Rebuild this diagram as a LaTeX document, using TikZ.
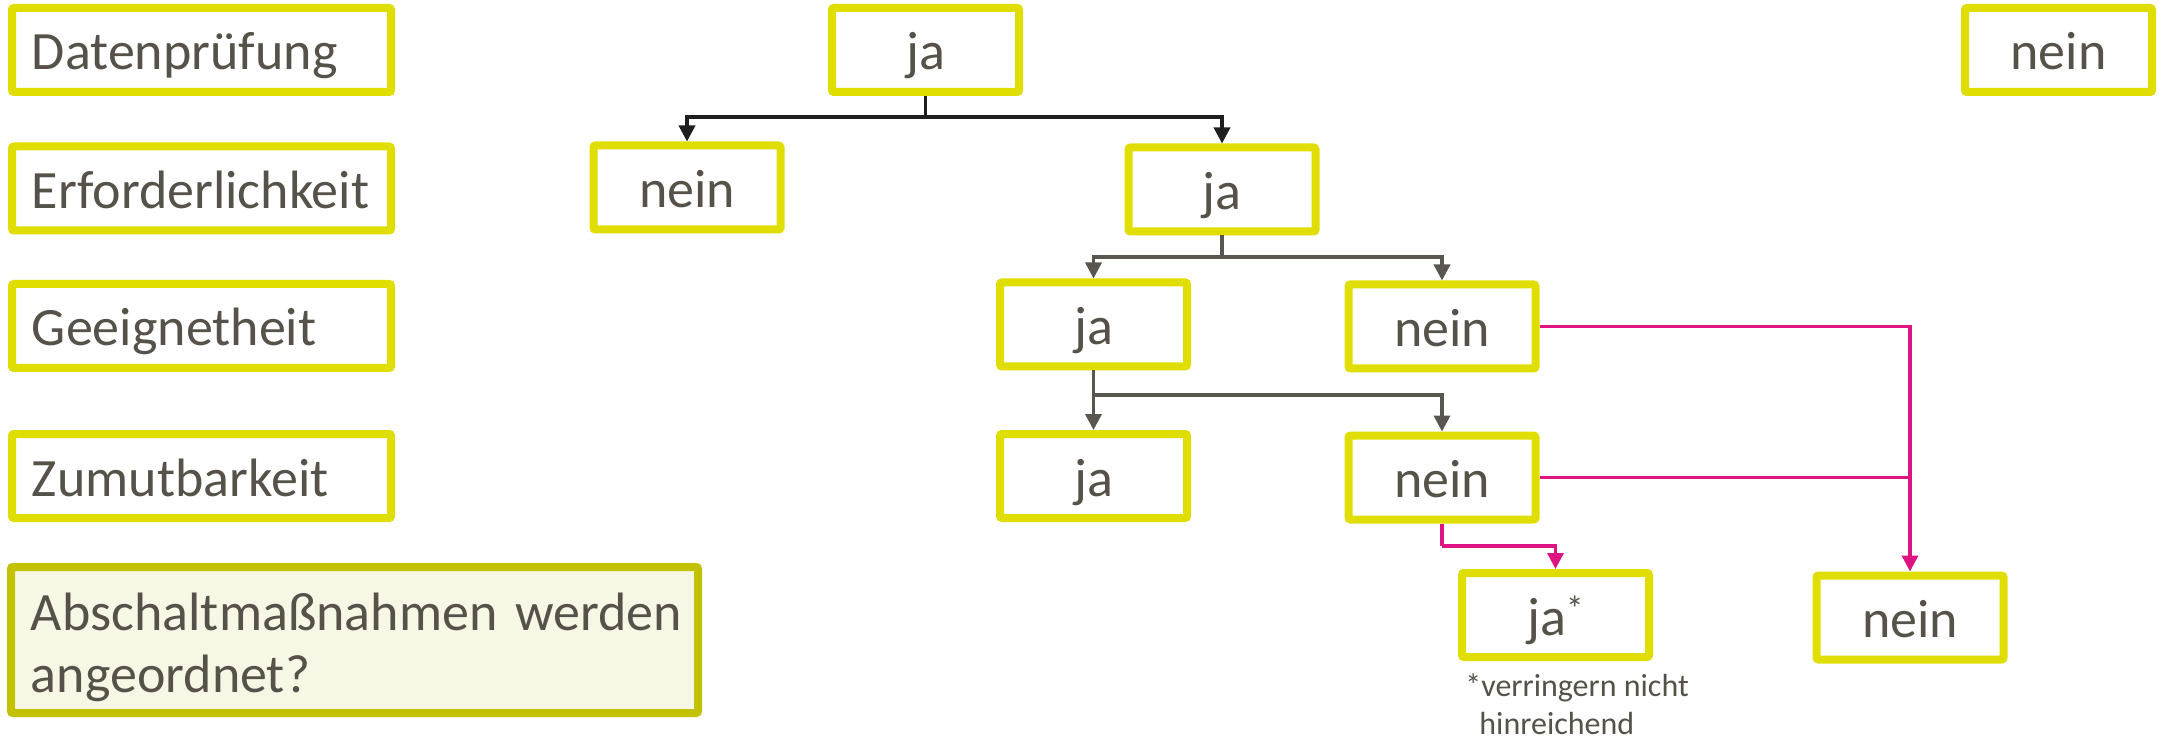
\documentclass[tikz,border=0pt]{standalone}
\usepackage{fontspec}
\setmainfont{Carlito}
\usetikzlibrary{arrows.meta}
\definecolor{boxyellow}{RGB}{224,222,0}
\definecolor{boxolive}{RGB}{194,194,0}
\definecolor{paleolive}{RGB}{247,247,230}
\definecolor{txtgray}{RGB}{87,82,73}
\definecolor{pinkline}{RGB}{221,20,130}
\definecolor{darkline}{RGB}{30,30,30}
\definecolor{grayline}{RGB}{89,86,80}
\tikzset{
  labelbox/.style={draw=boxyellow, line width=4pt, rounded corners=1pt, text=txtgray,
    font=\fontsize{27}{31}\selectfont, align=left, text width=169.5pt, inner xsep=10pt,
    inner ysep=0pt, minimum height=42pt, text height=20pt, text depth=0pt},
  questbox/.style={draw=boxolive, fill=paleolive, line width=4pt, rounded corners=1pt, text=txtgray,
    font=\fontsize{27}{31}\selectfont, align=left, text width=323.5pt, inner xsep=10pt,
    inner ysep=0pt, minimum height=73pt},
  ansbox/.style={draw=boxyellow, line width=4pt, rounded corners=1pt, text=txtgray,
    font=\fontsize{27}{31}\selectfont, minimum width=93.5pt, minimum height=42pt, inner sep=0pt,
    text height=20pt, text depth=0pt},
  conn/.style={line width=1.75pt, -{Triangle[length=8pt,width=8pt]}},
  plain/.style={line width=1.75pt},
  note/.style={text=txtgray, font=\fontsize{16}{19}\selectfont, align=left, inner sep=0pt}
}
\begin{document}
\begin{tikzpicture}[x=0.5pt,y=-0.5pt]
\useasboundingbox (0,0) rectangle (2164,743);

% left column labels
\node[labelbox] (lDaten) at (201.5,50) {Datenprüfung};
\node[labelbox] (lErf) at (201.5,188.5) {Erforderlichkeit};
\node[labelbox] (lGeeig) at (201.5,326) {Geeignetheit};
\node[labelbox] (lZumut) at (201.5,476) {Zumutbarkeit};
\node[questbox] (lQuest) at (354.5,640) {\rule{0pt}{26pt}\mbox{Abschaltmaßnahmen werden}\\angeordnet?};

% tree nodes
\node[ansbox] (jaTop) at (925.5,50) {ja};
\node[ansbox] (neinTop) at (2058.5,50) {nein};
\node[ansbox] (neinE) at (687,187.5) {nein};
\node[ansbox] (jaE) at (1222,189.5) {ja};
\node[ansbox] (jaG) at (1093.5,324.5) {ja};
\node[ansbox] (neinG) at (1442,326.5) {nein};
\node[ansbox] (jaZ) at (1093.5,476) {ja};
\node[ansbox] (neinZ) at (1442,477.5) {nein};
\node[ansbox] (jaStar) at (1555.5,615) {ja\raisebox{7pt}{\fontsize{18}{18}\selectfont *}};
\node[ansbox] (neinB) at (1910,617.5) {nein};
\node[note, anchor=north west] (fn) at (1465,673) {*verringern nicht\\\hspace*{7pt}hinreichend};

% junctions
\coordinate (j1) at (925.5,117);
\coordinate (j2) at (1222,257);
\coordinate (j3) at (1093.5,395);
\coordinate (j4) at (1442,546);

% black connectors
\draw[plain, darkline] (jaTop.south) -- (j1);
\draw[conn, darkline] (j1) -| (neinE.north);
\draw[conn, darkline] (j1) -| (jaE.north);

% gray connectors
\draw[plain, grayline] (jaE.south) -- (j2);
\draw[conn, grayline] (j2) -| (jaG.north);
\draw[conn, grayline] (j2) -| (neinG.north);
\draw[conn, grayline] (jaG.south) -- (jaZ.north);
\draw[conn, grayline] (j3) -| (neinZ.north);

% pink connectors
\draw[conn, pinkline] (neinG.east) -| (neinB.north);
\draw[plain, pinkline] (neinZ.east) -- (neinB.north |- neinZ.east);
\draw[plain, pinkline] (neinZ.south) -- (j4);
\draw[conn, pinkline] (j4) -| (jaStar.north);
\end{tikzpicture}
\end{document}
